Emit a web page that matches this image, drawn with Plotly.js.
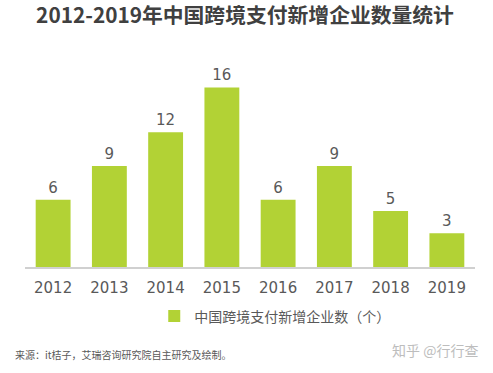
<!DOCTYPE html>
<html><head><meta charset="utf-8">
<script src="https://cdn.plot.ly/plotly-3.0.1.min.js"></script>
<style>html,body{margin:0;padding:0;background:#fff}#c{width:493px;height:373px}</style>
</head><body><div id="c"></div>
<script>
const years = ['2012','2013','2014','2015','2016','2017','2018','2019'];
const counts = [6, 9, 12, 16, 6, 9, 5, 3];
const seriesName = '中国跨境支付新增企业数（个）';
const titleText = '2012-2019年中国跨境支付新增企业数量统计';
const sourceText = '来源：it桔子，艾瑞咨询研究院自主研究及绘制。';
const watermark = '知乎 @行行查';

const numFont = '"DejaVu Sans", "Noto Sans CJK SC", sans-serif';
const cjkFont = '"Noto Sans CJK SC", sans-serif';

Plotly.newPlot('c', [{
  type: 'bar', x: years, y: counts, name: seriesName,
  marker: {color: '#b2d235'},
  text: counts.map(String), textposition: 'outside', cliponaxis: false,
  textfont: {family: numFont, size: 15, color: '#595959'},
  hoverinfo: 'none', showlegend: true
}], {
  width: 493, height: 373,
  margin: {l: 25, r: 18, t: 65, b: 106},
  paper_bgcolor: '#fff', plot_bgcolor: '#fff',
  bargap: 0.38,
  title: {text: '<b>' + titleText + '</b>', x: 0.497, xanchor: 'center', y: 0.957, yanchor: 'middle',
    font: {family: cjkFont, size: 20.8, color: '#404040'}},
  xaxis: {type: 'category', tickmode: 'array', tickvals: years, ticktext: years,
    showgrid: false, showline: true, linecolor: '#d0d0d0', linewidth: 1.5, ticks: '',
    ticklabelstandoff: 6,
    tickfont: {family: numFont, size: 15, color: '#595959'}, fixedrange: true},
  yaxis: {range: [0, 18], visible: false, showgrid: false, zeroline: false, fixedrange: true},
  showlegend: true,
  legend: {orientation: 'h', x: 0.555, xanchor: 'center', y: -0.245, yanchor: 'middle',
    font: {family: cjkFont, size: 14, color: '#595959'}},
  annotations: [
    {text: sourceText, xref: 'paper', yref: 'paper', x: -0.027, xanchor: 'left', y: -0.435, yanchor: 'middle',
     showarrow: false, font: {family: cjkFont, size: 10, color: '#595959'}},
    {text: watermark, xref: 'paper', yref: 'paper', x: 1.01, xanchor: 'right', y: -0.41, yanchor: 'middle',
     showarrow: false, font: {family: cjkFont, size: 14, color: '#bdbdbd'}}
  ]
}, {displayModeBar: false, staticPlot: true});
</script></body></html>
